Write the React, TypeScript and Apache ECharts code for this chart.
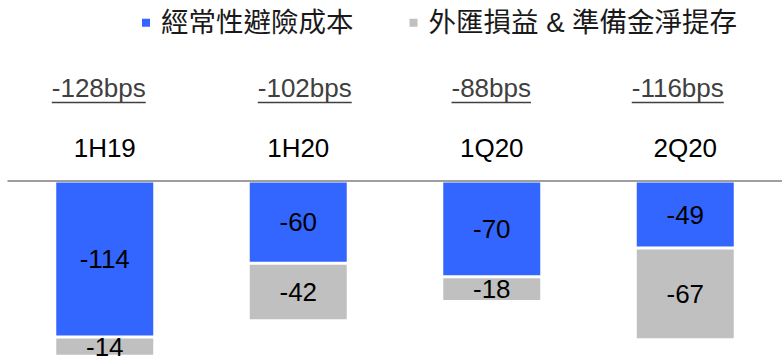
import React, { useEffect, useRef } from "react";
import * as echarts from "echarts";

const categories = ["1H19", "1H20", "1Q20", "2Q20"];
const hedgeCost = [-114, -60, -70, -49];
const fxProvision = [-14, -42, -18, -67];
const seriesNames = ["經常性避險成本", "外匯損益 & 準備金淨提存"];
const totals = categories.map((_, i) => hedgeCost[i] + fxProvision[i]);
const totalLabels = totals.map((v) => `${v}bps`);

const LATIN = '"Liberation Sans", Arial, Helvetica, sans-serif';
const MIXED = '"Liberation Sans", "Noto Sans CJK TC", sans-serif';
// small horizontal nudges of the total labels relative to their category centre (px)
const totalNudge = [-6, 6.5, -0.5, -7.5];

function measure(text: string, font: string): number {
  const c = document.createElement("canvas");
  const ctx = c.getContext("2d");
  if (!ctx) return text.length * 14;
  ctx.font = font;
  return ctx.measureText(text).width;
}

export default function App() {
  const ref = useRef<HTMLDivElement>(null);
  useEffect(() => {
    if (!ref.current) return;
    const chart = echarts.init(ref.current, undefined, { renderer: "svg" });
    const labelFont = `26px ${LATIN}`;
    chart.setOption({
      animation: false,
      backgroundColor: "#ffffff",
      legend: {
        data: seriesNames,
        left: 140,
        top: 9,
        padding: 0,
        itemWidth: 10,
        itemHeight: 10,
        itemGap: 54,
        icon: "rect",
        textStyle: {
          fontSize: 27.5,
          fontFamily: MIXED,
          color: "#1a1a1a",
          padding: [0, 0, 0, 5],
        },
      },
      grid: { left: 8, top: 181, width: 777.3, height: 180.3 },
      xAxis: {
        type: "category",
        data: categories,
        position: "top",
        z: 10,
        axisTick: { show: false },
        axisLine: { lineStyle: { color: "#7f7f7f", width: 1.5 } },
        axisLabel: {
          fontSize: 26,
          fontFamily: LATIN,
          color: "#000000",
          verticalAlign: "middle",
          margin: 33,
        },
      },
      yAxis: { type: "value", min: -130, max: 0, show: false },
      series: [
        {
          name: seriesNames[0],
          type: "bar",
          stack: "total",
          data: hedgeCost,
          barWidth: 100,
          itemStyle: { color: "#3366ff", borderColor: "#ffffff", borderWidth: 1.5 },
          label: {
            show: true,
            position: "inside",
            fontSize: 26,
            fontFamily: LATIN,
            color: "#000000",
          },
        },
        {
          name: seriesNames[1],
          type: "bar",
          stack: "total",
          data: fxProvision,
          barWidth: 100,
          itemStyle: { color: "#c0c0c0", borderColor: "#ffffff", borderWidth: 1.5 },
          label: {
            show: true,
            position: "inside",
            fontSize: 26,
            fontFamily: LATIN,
            color: "#000000",
          },
        },
        {
          name: "totals",
          type: "custom",
          clip: false,
          z: 20,
          data: categories.map((_, i) => [i, 0]),
          encode: { x: 0, y: 1 },
          renderItem: (params: any, api: any) => {
            const idx = api.value(0);
            const x = api.coord([idx, 0])[0] + totalNudge[idx];
            const txt = totalLabels[idx];
            const w = measure(txt, labelFont);
            return {
              type: "group",
              children: [
                {
                  type: "text",
                  x,
                  y: 88,
                  style: {
                    text: txt,
                    fontSize: 26,
                    fontFamily: LATIN,
                    fill: "#404040",
                    align: "center",
                    verticalAlign: "middle",
                  },
                },
                {
                  type: "line",
                  shape: { x1: x - w / 2, y1: 102.5, x2: x + w / 2, y2: 102.5 },
                  style: { stroke: "#404040", lineWidth: 1.5 },
                },
              ],
            };
          },
        },
      ],
    });
    return () => chart.dispose();
  }, []);
  return (
    <div
      ref={ref}
      style={{ position: "absolute", left: 0, top: 0, width: 782, height: 359 }}
    />
  );
}
